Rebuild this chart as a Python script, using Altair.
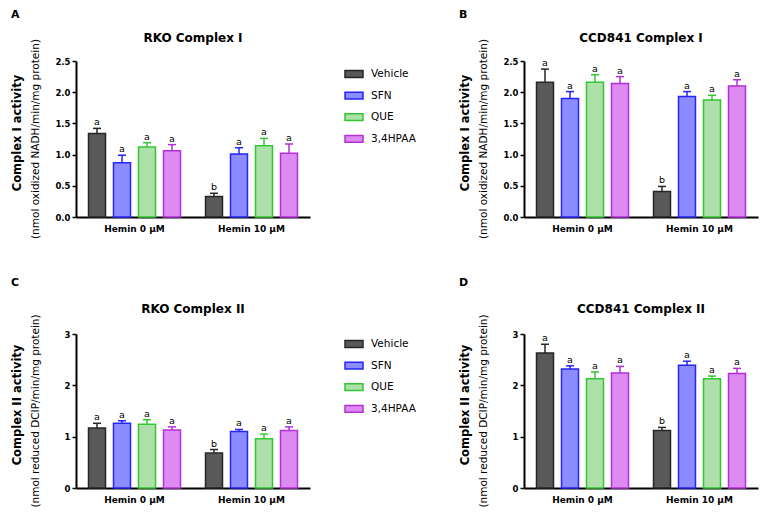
import altair as alt
import pandas as pd

# ---------------- data ----------------
hemin = ["Hemin 0 μM", "Hemin 10 μM"]
treatments = ["Vehicle", "SFN", "QUE", "3,4HPAA"]

fill_colors = ["#595959", "#8a8cff", "#aee0aa", "#dd8af3"]
stroke_colors = ["#262626", "#2424ff", "#33c633", "#b52fd8"]

# order: Hemin 0 (Vehicle, SFN, QUE, 3,4HPAA), Hemin 10 (...)
A_mean = [1.34, 0.87, 1.12, 1.06, 0.33, 1.01, 1.14, 1.02]
A_sem = [0.08, 0.12, 0.07, 0.10, 0.05, 0.10, 0.12, 0.15]
A_sig = ["a", "a", "a", "a", "b", "a", "a", "a"]

B_mean = [2.16, 1.90, 2.16, 2.14, 0.41, 1.93, 1.875, 2.10]
B_sem = [0.21, 0.11, 0.12, 0.11, 0.08, 0.08, 0.075, 0.10]
B_sig = ["a", "a", "a", "a", "b", "a", "a", "a"]

C_mean = [1.17, 1.26, 1.24, 1.13, 0.68, 1.10, 0.96, 1.12]
C_sem = [0.09, 0.05, 0.09, 0.06, 0.07, 0.04, 0.09, 0.07]
C_sig = ["a", "a", "a", "a", "b", "a", "a", "a"]

D_mean = [2.63, 2.32, 2.13, 2.24, 1.12, 2.39, 2.13, 2.23]
D_sem = [0.17, 0.06, 0.13, 0.13, 0.06, 0.08, 0.05, 0.10]
D_sig = ["a", "a", "a", "a", "b", "a", "a", "a"]

titles = ["RKO Complex I", "CCD841 Complex I", "RKO Complex II", "CCD841 Complex II"]
panel_letters = ["A", "B", "C", "D"]
ylab1 = ["Complex I activity", "Complex II activity"]
ylab2 = ["(nmol oxidized NADH/min/mg protein)", "(nmol reduced DCIP/min/mg protein)"]

FONT = "DejaVu Sans"
W = 234


def panel(mean, sem, sig, title, letter, yl1, yl2, ydomain, yvalues, yfmt, h,
          letter_y, title_y, legend_y):
    df = pd.DataFrame({
        "hemin": [hh for hh in hemin for _ in treatments],
        "treatment": treatments * 2,
        "mean": mean,
        "upper": [m + s for m, s in zip(mean, sem)],
        "sig": sig,
    })
    base = alt.Chart(df)
    x = alt.X("hemin:N", sort=None,
              scale=alt.Scale(domain=hemin, paddingInner=0, paddingOuter=0),
              axis=alt.Axis(title=None))
    xo = alt.XOffset("treatment:N", sort=None,
                     scale=alt.Scale(domain=treatments, paddingInner=0.32, paddingOuter=0.5))
    yscale = alt.Scale(domain=ydomain, nice=False, zero=True)
    yaxis = alt.Axis(values=yvalues, format=yfmt, title=None)
    if legend_y is not None:
        leg = alt.Legend(orient="none", legendX=268, legendY=legend_y, title=None,
                         symbolType="M-1,-0.38H1V0.38H-1Z", symbolSize=324,
                         symbolStrokeWidth=1.5, labelFont=FONT, labelFontSize=10.5,
                         labelColor="black", labelOffset=7, rowPadding=4.6, padding=0)
    else:
        leg = None
    fill = alt.Fill("treatment:N", sort=None,
                    scale=alt.Scale(domain=treatments, range=fill_colors), legend=leg)
    stroke = alt.Stroke("treatment:N", sort=None,
                        scale=alt.Scale(domain=treatments, range=stroke_colors), legend=leg)

    bars = base.mark_bar(strokeWidth=1.5).encode(
        x=x, xOffset=xo, y=alt.Y("mean:Q", scale=yscale, axis=yaxis), fill=fill, stroke=stroke)
    err = base.mark_rule(strokeWidth=1.5).encode(
        x=x, xOffset=xo, y=alt.Y("mean:Q", scale=yscale, axis=yaxis), y2="upper:Q", stroke=stroke)
    caps = base.mark_point(shape="M-1,0L1,0", size=64, strokeWidth=1.5, filled=False,
                           opacity=1).encode(
        x=x, xOffset=xo, y=alt.Y("upper:Q", scale=yscale, axis=yaxis), stroke=stroke)
    txt = base.mark_text(baseline="alphabetic", dy=-3, fontSize=9.5, font=FONT,
                         color="black").encode(
        x=x, xOffset=xo, y=alt.Y("upper:Q", scale=yscale, axis=yaxis), text="sig:N")

    t_title = alt.Chart(pd.DataFrame({"t": [title]})).mark_text(
        font=FONT, fontSize=12, fontWeight="bold", align="center", baseline="alphabetic",
        color="black").encode(text="t:N", x=alt.value(W / 2), y=alt.value(title_y))
    t_letter = alt.Chart(pd.DataFrame({"t": [letter]})).mark_text(
        font=FONT, fontSize=11, fontWeight="bold", align="left", baseline="alphabetic",
        color="black").encode(text="t:N", x=alt.value(-65), y=alt.value(letter_y))
    t_y1 = alt.Chart(pd.DataFrame({"t": [yl1]})).mark_text(
        font=FONT, fontSize=11.5, fontWeight="bold", align="center", baseline="middle",
        angle=270, color="black").encode(text="t:N", x=alt.value(-58), y=alt.value(h / 2 - 6))
    t_y2 = alt.Chart(pd.DataFrame({"t": [yl2]})).mark_text(
        font=FONT, fontSize=10.5, align="center", baseline="middle",
        angle=270, color="black").encode(text="t:N", x=alt.value(-40), y=alt.value(h / 2))

    return alt.layer(bars, err, caps, txt, t_title, t_letter, t_y1, t_y2).properties(
        width=W, height=h)


yv1 = [0, 0.5, 1.0, 1.5, 2.0, 2.5]
yv2 = [0, 1, 2, 3]

pA = panel(A_mean, A_sem, A_sig, titles[0], panel_letters[0], ylab1[0], ylab2[0],
           [0, 2.5], yv1, ".1f", 156, -43, -19, 3)
pB = panel(B_mean, B_sem, B_sig, titles[1], panel_letters[1], ylab1[0], ylab2[0],
           [0, 2.5], yv1, ".1f", 156, -43, -19, None)
pC = panel(C_mean, C_sem, C_sig, titles[2], panel_letters[2], ylab1[1], ylab2[1],
           [0, 3], yv2, "d", 154, -48, -21, 0)
pD = panel(D_mean, D_sem, D_sig, titles[3], panel_letters[3], ylab1[1], ylab2[1],
           [0, 3], yv2, "d", 154, -48, -21, None)

chart = alt.concat(
    pA, pB, pC, pD, columns=2, spacing={"row": 117, "column": 214}, bounds="flush"
).resolve_scale(
    fill="independent", stroke="independent"
).properties(
    padding={"left": 3, "top": 1, "right": 5, "bottom": 5}
).configure_view(stroke=None).configure_axis(
    domainColor="black", domainWidth=2, tickColor="black", tickWidth=1.5, tickSize=4,
    labelColor="black", labelFont=FONT, labelFontWeight="bold", grid=False
).configure_axisY(labelFontSize=8.5, labelPadding=2).configure_axisX(
    labelFontSize=9, ticks=False, labelPadding=7, labelAngle=0
)

chart.save("out.html", embed_options={"renderer": "svg", "actions": False})
